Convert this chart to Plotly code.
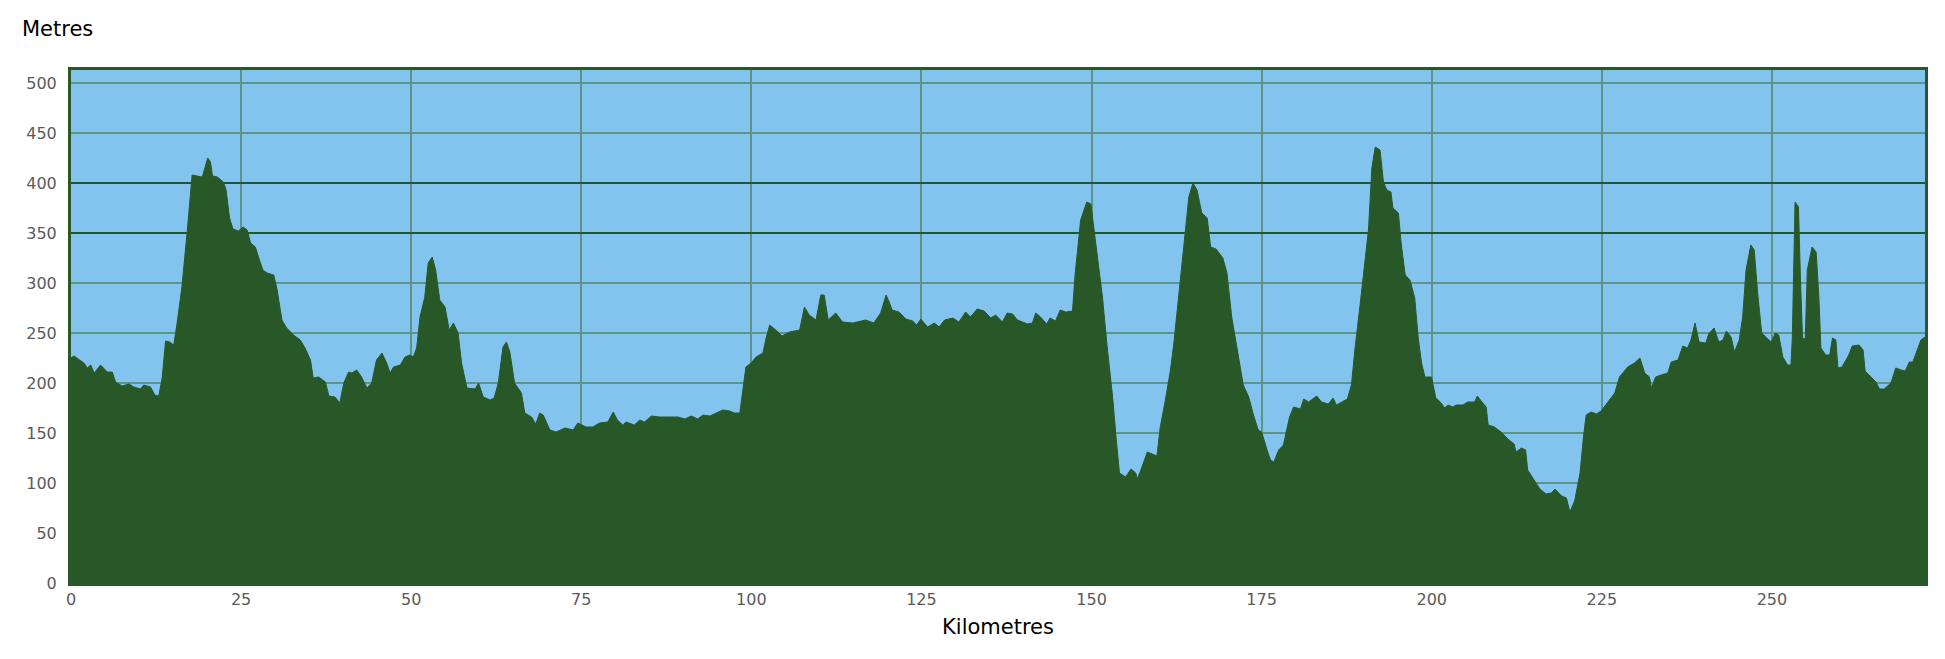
import plotly.graph_objects as go

km = [0, 0.44, 1.9, 2.4, 2.9, 3.4, 4.35, 5.33, 6.06, 6.55, 7.53, 8.5, 9.24, 10.2, 10.7, 11.7, 12.3, 12.9,
      13.4, 13.9, 14.5, 15.1, 15.6, 16.3, 17.1, 17.8, 18.5, 19.3, 19.8, 20.1, 20.5, 20.8, 21.5, 22.4, 22.8,
      23.3, 23.8, 24.6, 25.3, 25.9, 26.4, 27.1, 27.6, 28.2, 28.8, 29.8, 30.3, 31.0, 31.7, 32.7, 33.7, 34.4,
      35.2, 35.6, 36.4, 37.4, 37.9, 38.8, 39.5, 40.1, 40.8, 41.3, 42.0, 42.7, 43.5, 44.2, 44.9, 45.7,
      46.4, 46.9, 47.4, 48.4, 49.1, 49.8, 50.3, 50.8, 51.3, 52.0, 52.5, 53.1, 53.6, 54.2, 54.97, 55.6, 56.2,
      56.9, 57.4, 58.2, 59.4, 59.9, 60.6, 61.6, 62.2, 62.8, 63.5, 64.0, 64.5, 65.2, 66.2, 66.7, 67.7, 68.3,
      68.9, 69.4, 70.4, 71.3, 72.6, 73.8, 74.5, 75.7, 76.7, 77.7, 78.9, 79.7, 80.3, 81.1, 81.6, 82.8, 83.6,
      84.3, 85.3, 86.5, 88.0, 89.2, 90.2, 91.2,
      92.1, 92.9, 93.9, 94.8, 95.8, 96.8, 97.5, 98.3, 98.7, 99.2, 99.96, 100.7, 101.7, 102.2, 102.7, 103.6,
      104.5, 105.6, 107.1, 107.8, 108.5, 109.5, 110.2, 110.7, 111.3, 112.4, 113.4, 114.9, 116.8, 118.0,
      119.0, 119.8, 120.2, 120.7, 121.7, 122.7, 123.7, 124.3, 124.9, 125.9, 126.9, 127.6, 128.4, 129.6,
      130.5, 131.5, 132.2, 133.2, 134.2, 135.2, 135.9, 136.9, 137.6,
      138.4, 139.1, 140.6, 141.3, 141.8, 142.5, 143.4, 143.9, 144.7, 145.4, 146.2, 147.2, 147.6, 148.4,
      149.3, 149.9, 150.4, 150.9, 151.6, 152.3, 153.1, 153.6, 154.1, 155.0, 155.8, 156.5, 156.7, 157.2,
      158.2, 159.6, 160.1, 160.8, 161.6, 162.1, 162.6, 163.1, 163.8, 164.3, 164.9, 165.5, 166.2, 167.0,
      167.5, 168.3, 169.3, 169.9, 170.6, 171.4, 172.3, 173.1, 173.8, 174.5, 175.0, 175.8, 176.3, 176.8,
      177.5, 178.2, 179.1, 179.7, 180.7, 181.2, 181.9, 183.1,
      183.8, 184.8, 185.5, 186.0, 187.0, 187.6, 188.2, 188.7, 189.5, 190.2, 190.7, 191.2, 191.7, 192.4,
      192.9, 193.4, 194.0, 194.3, 195.1, 195.5, 196.1, 196.8, 197.5, 198.0, 198.5, 199.0, 199.97, 200.6,
      201.4, 201.9, 202.4, 203.1, 203.6, 204.6, 205.3, 206.3, 206.7, 207.5, 208.0, 208.3, 209.2, 210.2,
      211.2, 212.1, 212.4, 213.2, 213.8, 214.1, 215.1, 215.9, 216.8, 217.6, 218.1, 219.1, 219.8, 220.3,
      221.0, 221.8, 222.3, 222.7, 223.4, 224.2, 224.9, 225.9, 226.9, 227.6, 228.8, 229.8,
      230.6, 231.3, 232.0, 232.3, 232.9, 233.7, 234.7, 235.2, 236.2, 236.9, 237.6, 238.1, 238.7, 239.3,
      240.3, 240.7, 241.5, 242.2, 242.8, 243.3, 244.0, 244.5, 245.2, 245.7, 246.2, 246.9, 247.4, 247.9,
      248.5, 249.4, 249.9, 250.5, 251.0, 251.6, 252.3, 252.8, 253.0, 253.4, 253.9, 254.2, 254.5, 254.9,
      255.2, 255.9, 256.5, 256.9, 257.2, 257.9, 258.5, 258.9, 259.4, 259.7, 260.3, 261.3, 261.8, 262.8,
      263.4, 263.7, 264.5, 265.3, 265.8, 266.5, 267.5, 268.2, 269.0, 269.6, 270.2, 270.7, 271.2, 271.9,
      272.5]

elev = [225, 227, 220, 215, 218, 210, 218, 211, 211, 201, 197, 199, 196, 194, 198, 196, 188, 187,
        205, 242, 241, 238, 260, 296, 353, 408, 407, 406, 418, 425, 421, 407, 406, 401, 393,
        365, 354, 352, 356, 353, 340, 336, 325, 313, 310, 308, 293, 263, 255, 248, 243, 235,
        223, 205, 206, 201, 187, 186, 180, 200, 211, 210, 213, 206, 195, 200, 223, 230,
        220, 210, 216, 218, 226, 228, 226, 235, 266, 286, 320, 326, 313, 283, 276, 253, 260,
        250, 220, 195, 194, 200, 186, 183, 185, 200, 236, 241, 231, 200, 190, 170, 166, 159,
        170, 168, 153, 151, 155, 153, 160, 156, 156, 160, 161, 171, 163, 158, 161, 158, 163,
        161, 167, 166, 166, 166, 164, 167,
        164, 168, 167, 170, 173, 172, 170, 170, 193, 216, 220, 226, 230, 246, 258, 253,
        247, 251, 253, 276, 268, 263, 288, 288, 263, 270, 261, 260, 263, 260,
        270, 288, 282, 273, 271, 264, 262, 258, 264, 256, 260, 256, 263, 265,
        261, 271, 266, 274, 272, 265, 268, 261, 270,
        269, 263, 259, 260, 270, 266, 259, 265, 262, 273, 271, 272, 310, 363,
        381, 379, 353, 328, 286, 236, 186, 146, 110, 106, 114, 110, 104, 112,
        131, 127, 156, 181, 213, 240, 273, 306, 356, 386, 400, 393, 370, 365,
        336, 334, 325, 310, 266, 233, 198, 186, 168, 153, 151, 133, 123, 121,
        133, 138, 166, 176, 174, 184, 181, 187,
        181, 179, 185, 178, 182, 184, 198, 233, 280, 320, 353, 415, 436, 433,
        401, 393, 391, 375, 370, 340, 308, 303, 285, 246, 220, 206, 206, 185,
        180, 175, 178, 176, 178, 178, 181, 181, 187, 180, 176, 158, 156, 151,
        144, 139, 131, 135, 133, 113, 103, 94, 89, 90, 94, 87, 85, 71,
        82, 110, 146, 168, 171, 169, 172, 181, 190, 206, 216, 220,
        225, 210, 206, 195, 206, 208, 210, 221, 223, 237, 235, 243, 260, 241,
        240, 249, 255, 241, 243, 252, 246, 231, 243, 266, 313, 338, 333, 290,
        250, 244, 241, 250, 248, 226, 218, 218, 246, 381, 376, 303, 245, 244,
        313, 336, 331, 286, 235, 228, 228, 245, 243, 215, 216, 228, 237, 238,
        233, 212, 206, 201, 194, 194, 200, 215, 213, 212, 221, 221, 230, 243,
        246]

x_ticks = [0, 25, 50, 75, 100, 125, 150, 175, 200, 225, 250]
y_ticks = [0, 50, 100, 150, 200, 250, 300, 350, 400, 450, 500]
dark_grid_ticks = [350, 400]

SKY = "#82C4EE"
GREEN = "#285828"
GRID = "#5E9488"
TICK_FONT = dict(family="DejaVu Sans", size=16, color="#5a5a5a")

fig = go.Figure()
fig.add_trace(go.Scatter(
    x=km, y=elev, mode="lines", fill="tozeroy",
    line=dict(color=GREEN, width=1), fillcolor=GREEN,
    hoverinfo="x+y", showlegend=False,
))
# invisible trace on overlay axis so that its darker gridlines render
fig.add_trace(go.Scatter(x=[None], y=[None], yaxis="y2", showlegend=False, hoverinfo="skip"))

fig.update_layout(
    width=1929, height=643,
    margin=dict(l=63, r=9, t=62, b=68),
    paper_bgcolor="white",
    plot_bgcolor=SKY,
    font=dict(family="DejaVu Sans", color="black"),
    xaxis=dict(
        range=[0, 272.5], tickvals=x_ticks, ticktext=[str(v) for v in x_ticks],
        showgrid=True, gridcolor=GRID, gridwidth=1.5, zeroline=False,
        showline=True, linecolor=GREEN, linewidth=3, mirror=True,
        ticks="", tickfont=TICK_FONT,
        title=dict(text="Kilometres", font=dict(family="DejaVu Sans", size=21, color="black"), standoff=12),
    ),
    yaxis=dict(
        range=[0, 513], tickvals=y_ticks, ticktext=[str(v) for v in y_ticks],
        showgrid=True, gridcolor=GRID, gridwidth=1.5, zeroline=False,
        showline=True, linecolor=GREEN, linewidth=3, mirror=True,
        ticks="", tickfont=TICK_FONT, ticklabelstandoff=8,
    ),
    yaxis2=dict(
        range=[0, 513], overlaying="y", tickvals=dark_grid_ticks, showticklabels=False,
        showgrid=True, gridcolor="#1E5A2E", gridwidth=1.5, zeroline=False, showline=False,
    ),
    annotations=[dict(
        text="Metres", xref="paper", yref="paper", x=-0.0275, y=1.08,
        xanchor="left", yanchor="middle", showarrow=False,
        font=dict(family="DejaVu Sans", size=21, color="black"),
    )],
)

fig.write_html("out.html")
